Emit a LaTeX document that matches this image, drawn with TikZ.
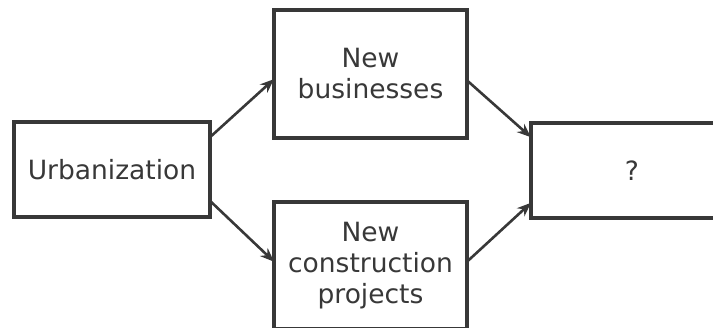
\documentclass[tikz,border=0pt]{standalone}
\usepackage{fontspec}
\setmainfont{DejaVu Sans}
\usetikzlibrary{arrows.meta,calc}
\definecolor{ink}{HTML}{383838}
\begin{document}
\begin{tikzpicture}[x=1pt,y=-1pt,
  box/.style={draw=ink,line width=3.2pt,rectangle,inner sep=0pt,outer sep=0pt,
    align=center,text=ink,font=\fontsize{26.5}{31}\selectfont},
  link/.style={draw=ink,line width=2.6pt,-{Stealth[length=14pt,width=11pt]}}]
  \useasboundingbox (0,0) rectangle (713,328);
  \clip (0,0) rectangle (713,328);
  % boxes (the two on the border run past the page edge)
  \node[box,minimum width=196pt,minimum height=95pt] (urb) at (112,169.5) {Urbanization};
  \node[box,minimum width=193pt,minimum height=128pt] (biz) at (370.5,74) {New\\businesses};
  \node[box,minimum width=193pt,minimum height=127pt] (con) at (370.5,265.5) {New\\construction\\projects};
  \node[box,minimum width=202pt,minimum height=95pt] (res) at (632,170.5) {?};
  % connectors
  \draw[link] ($(urb.north east)!0.16!(urb.south east)$) -- ($(biz.north west)!0.54!(biz.south west)$);
  \draw[link] ($(urb.north east)!0.83!(urb.south east)$) -- ($(con.north west)!0.47!(con.south west)$);
  \draw[link] ($(biz.north east)!0.55!(biz.south east)$) -- ($(res.north west)!0.15!(res.south west)$);
  \draw[link] ($(con.north east)!0.47!(con.south east)$) -- ($(res.north west)!0.84!(res.south west)$);
\end{tikzpicture}
\end{document}
